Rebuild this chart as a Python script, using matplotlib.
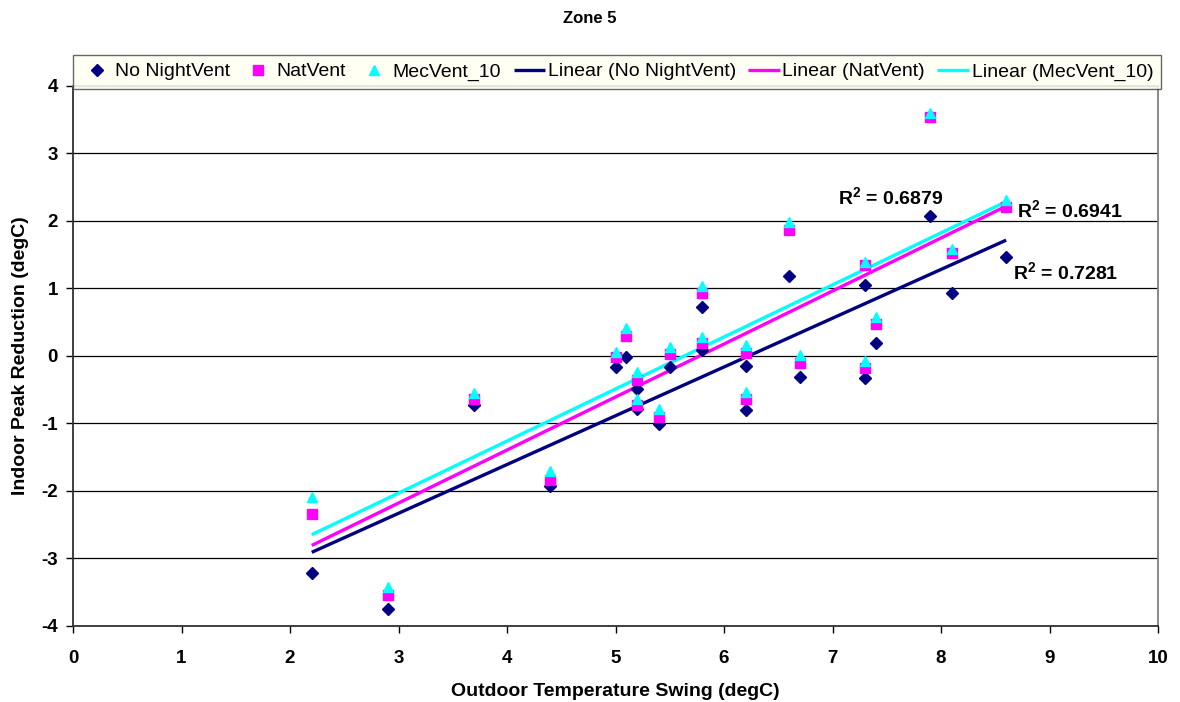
import numpy as np
import matplotlib
matplotlib.use("Agg")
import matplotlib.pyplot as plt

# Outdoor temperature swing (degC) for each simulated day
swing = [2.2, 2.9, 3.7, 4.4, 5.0, 5.1, 5.2, 5.2, 5.4, 5.5, 5.8, 5.8,
         6.2, 6.2, 6.6, 6.7, 7.3, 7.3, 7.4, 7.9, 8.1, 8.6]

# Indoor peak reduction (degC) per ventilation strategy
no_nightvent = [-3.21, -3.75, -0.73, -1.93, -0.17, -0.01, -0.49, -0.78, -1.01, -0.17, 0.72, 0.09,
                -0.15, -0.80, 1.19, -0.31, 1.05, -0.32, 0.19, 2.08, 0.93, 1.47]
natvent = [-2.34, -3.54, -0.64, -1.83, -0.02, 0.30, -0.36, -0.73, -0.90, 0.03, 0.93, 0.19,
           0.05, -0.64, 1.87, -0.11, 1.35, -0.18, 0.47, 3.54, 1.52, 2.20]
mecvent_10 = [-2.09, -3.42, -0.55, -1.71, 0.06, 0.41, -0.23, -0.63, -0.79, 0.14, 1.04, 0.28,
              0.16, -0.54, 1.98, 0.01, 1.39, -0.07, 0.58, 3.60, 1.58, 2.31]

series_names = ["No NightVent", "NatVent", "MecVent_10"]
r2_values = ["0.7281", "0.6941", "0.6879"]

colors = ["#000080", "#FF00FF", "#00FFFF"]
markers = ["D", "s", "^"]
msizes = [6.0, 7.0, 7.5]

plt.rcParams["font.family"] = ["Liberation Sans", "DejaVu Sans"]
plt.rcParams["axes.unicode_minus"] = False
plt.rcParams["mathtext.fontset"] = "custom"
plt.rcParams["mathtext.rm"] = "Liberation Sans"
plt.rcParams["mathtext.bf"] = "Liberation Sans:bold"

fig = plt.figure(figsize=(11.8, 7.02), dpi=100)
ax = fig.add_axes([0.0619, 0.1083, 0.9195, 0.7692])

x = np.array(swing)
scatter_handles = []
line_handles = []
for name, ys, c, m, ms in zip(series_names, [no_nightvent, natvent, mecvent_10],
                              colors, markers, msizes):
    h, = ax.plot(x, ys, linestyle="none", marker=m, markersize=ms,
                 color=c, markeredgecolor=c, zorder=3)
    scatter_handles.append((h, name))

for name, ys, c in zip(series_names, [no_nightvent, natvent, mecvent_10], colors):
    slope, intercept = np.polyfit(x, ys, 1)
    xx = np.array([x.min(), x.max()])
    h, = ax.plot(xx, slope * xx + intercept, color=c, linewidth=2.4,
                 solid_capstyle="butt", zorder=2)
    line_handles.append((h, f"Linear ({name})"))

# R-squared annotations
r2_pos = [(8.66, 1.24), (8.70, 2.16), (7.05, 2.36)]
for val, (tx, ty) in zip(r2_values, r2_pos):
    ax.text(tx, ty, r"$\mathbf{R^2}$ = " + val, fontsize=14, fontweight="bold",
            va="center", ha="left")

ax.set_xlim(0, 10)
ax.set_ylim(-4, 4)
ax.set_xticks(range(0, 11))
ax.set_yticks(range(-4, 5))
ax.yaxis.grid(True, color="black", linewidth=0.9)
ax.set_axisbelow(True)
ax.tick_params(axis="both", direction="out", length=5, width=1, labelsize=13.5, pad=6)
for lbl in ax.get_xticklabels() + ax.get_yticklabels():
    lbl.set_fontweight("bold")
ax.tick_params(axis="x", pad=12)

for s in ["left", "bottom"]:
    ax.spines[s].set_color("#303030")
    ax.spines[s].set_linewidth(1.3)
for s in ["top", "right"]:
    ax.spines[s].set_color("#808080")
    ax.spines[s].set_linewidth(1.3)

ax.set_xlabel("Outdoor Temperature Swing (degC)", fontsize=14, fontweight="bold", labelpad=12)
ax.set_ylabel("Indoor Peak Reduction (degC)", fontsize=14, fontweight="bold", labelpad=9)
fig.suptitle("Zone 5", fontsize=12, fontweight="bold", y=0.985)

handles = [h for h, _ in scatter_handles + line_handles]
labels = [l for _, l in scatter_handles + line_handles]
leg = ax.legend(handles, labels, loc="lower left", bbox_to_anchor=(0, 0.995, 1.003, 0.05),
                mode="expand", ncol=6, fontsize=14, frameon=True, fancybox=False,
                borderaxespad=0, handlelength=1.6, handletextpad=0.15, columnspacing=0.3,
                borderpad=0.42)
leg.get_frame().set_facecolor("#FFFFF2")
leg.get_frame().set_edgecolor("#404040")
leg.get_frame().set_linewidth(1.0)

fig.savefig("out.png", dpi=100)
